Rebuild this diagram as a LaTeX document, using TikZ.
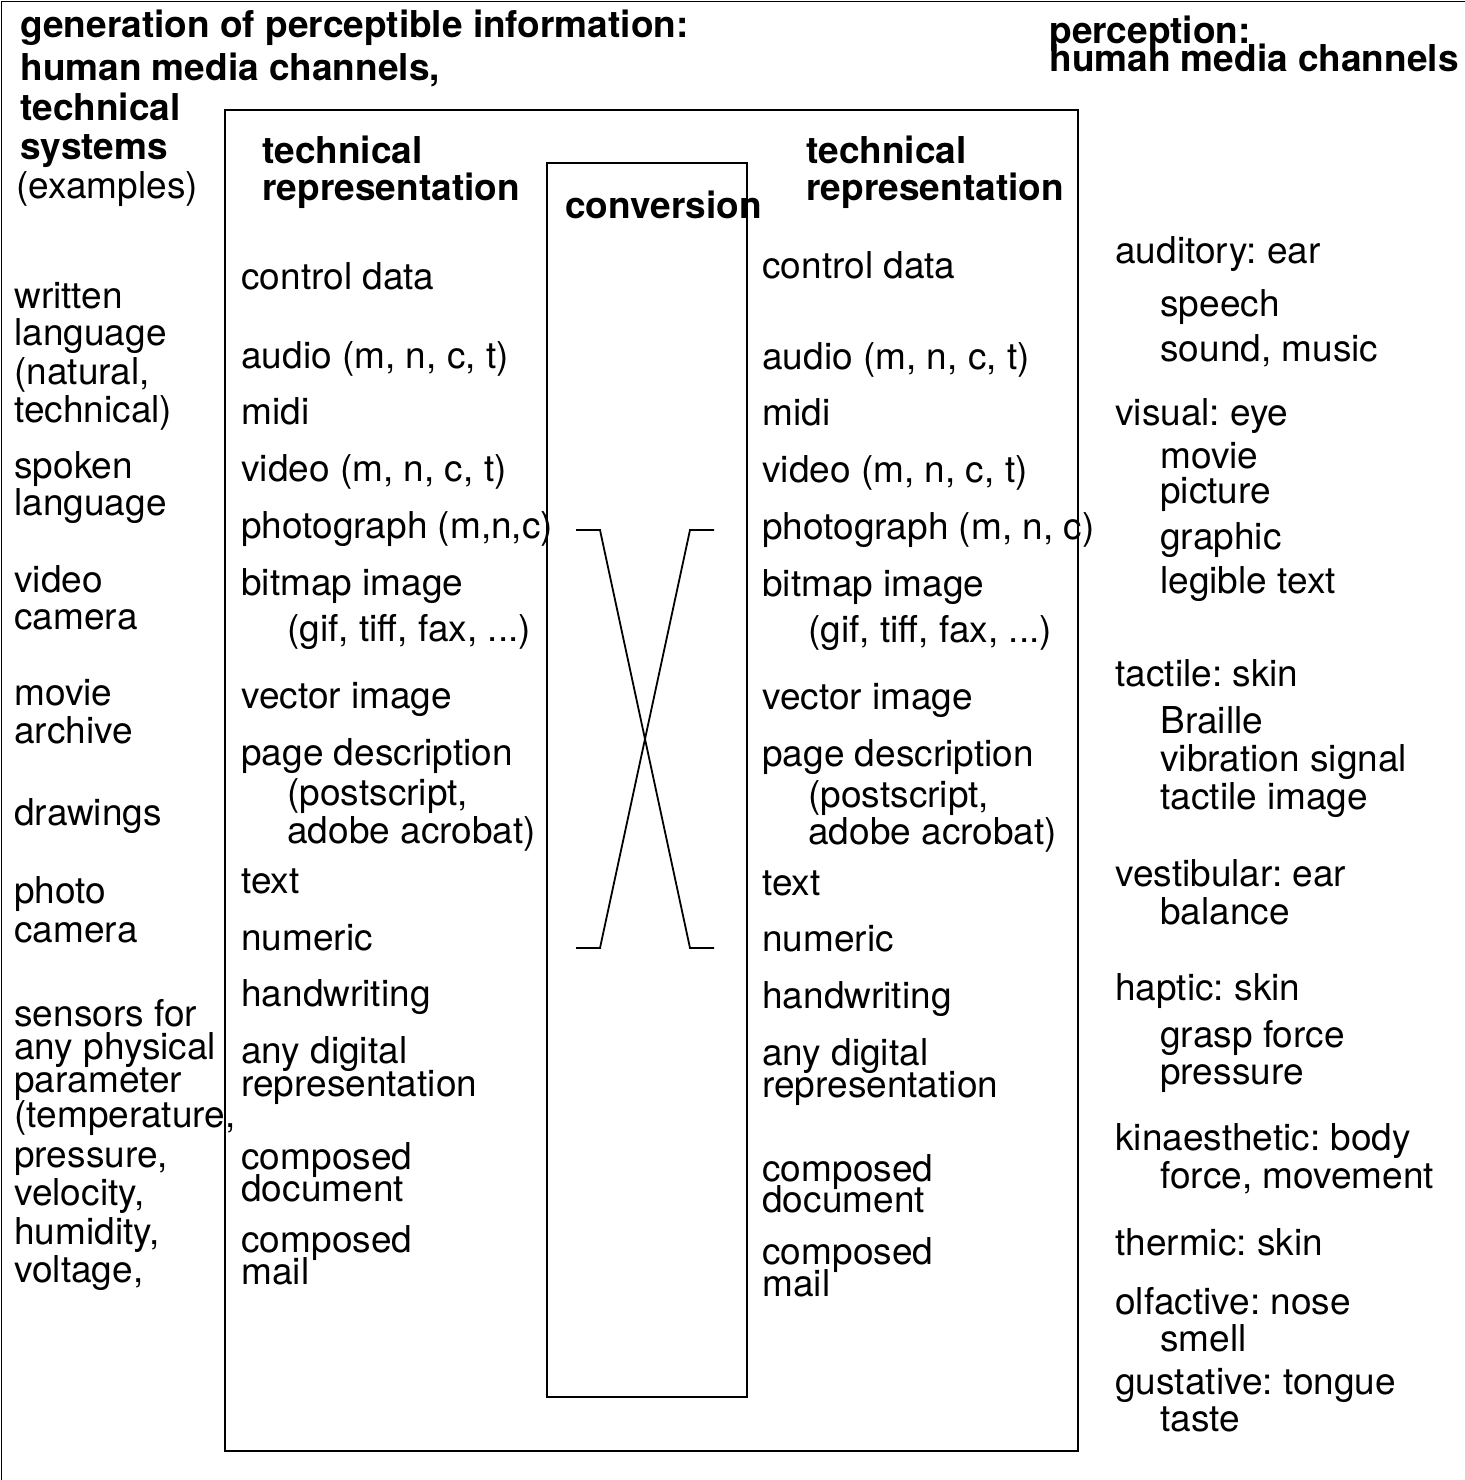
\documentclass[tikz,border=0pt]{standalone}
\usepackage{fontspec}
\setmainfont{TeX Gyre Heros}
\frenchspacing
\begin{document}
\begin{tikzpicture}[x=0.5pt,y=-0.5pt,
  lab/.style={anchor=base west, inner sep=0pt, font=\fontsize{18.5}{22}\selectfont},
  hd/.style={anchor=base west, inner sep=0pt, font=\fontsize{18.5}{22}\selectfont\bfseries},
  boxline/.style={line width=1pt},
  crossline/.style={line width=0.9pt, line join=miter}]
\useasboundingbox (0,0) rectangle (1465,1480);
% frame
\coordinate (fbl) at (1.5,1480);
\coordinate (ftl) at (1.5,1.5);
\coordinate (ftr) at (1465,1.5);
\draw[line width=0.8pt] (fbl) -- (ftl) -- (ftr);
% boxes
\coordinate (oTL) at (225,110); \coordinate (oBR) at (1078,1451);
\coordinate (cTL) at (547,163); \coordinate (cBR) at (747,1397);
\draw[boxline] (oTL) rectangle (oBR);
\draw[boxline] (cTL) rectangle (cBR);
% cross connectors
\coordinate (a1) at (576,530); \coordinate (a2) at (600,530);
\coordinate (a3) at (690,948); \coordinate (a4) at (714,948);
\coordinate (b1) at (714,530); \coordinate (b2) at (690,530);
\coordinate (b3) at (600,948); \coordinate (b4) at (576,948);
\draw[crossline] (a1) -- (a2) -- (a3) -- (a4);
\draw[crossline] (b1) -- (b2) -- (b3) -- (b4);
% headers
\node[hd] (h1) at (20,37) {generation of perceptible information:};
\node[hd] (h2) at (20,80) {human media channels,};
\node[hd] (h3) at (20,120) {technical};
\node[hd] (h4) at (20,159) {systems};
\node[lab] (h5) at (16,198) {(examples)};
\node[hd] (p1) at (1049,43) {perception:};
\node[hd] (p2) at (1049,71) {human media channels};
\node[hd] (t1) at (262,163) {technical};
\node[hd] (t2) at (262,200) {representation};
\node[hd] (t3) at (806,163) {technical};
\node[hd] (t4) at (806,200) {representation};
\node[hd] (cv) at (565,218) {conversion};
% left column
\foreach \y/\t [count=\i] in {308/written, 345/language, 384/{(natural,}, 422/{technical)},
  478/spoken, 515/language, 592/video, 629/camera, 705/movie, 743/archive,
  825/drawings, 903/photo, 942/camera, 1026/sensors for, 1059/any physical,
  1092/parameter, 1127/{(temperature,}, 1167/{pressure,}, 1205/{velocity,},
  1244/{humidity,}, 1282/{voltage,}}
  \node[lab] (L\i) at (14,\y) {\t};
% middle left column
\foreach \y/\t [count=\i] in {289/control data, 368/{audio (m, n, c, t)}, 424/midi,
  481/{video (m, n, c, t)}, 538/{photograph (m,n,c)}, 595/bitmap image,
  708/vector image, 765/page description, 893/text, 950/numeric,
  1006/handwriting, 1063/any digital, 1096/representation, 1169/composed,
  1201/document, 1252/composed, 1284/mail}
  \node[lab] (M\i) at (241,\y) {\t};
\node[lab] (Mg) at (287,641) {(gif, tiff, fax, ...)};
\node[lab] (Mp) at (287,805) {(postscript,};
\node[lab] (Ma) at (287,843) {adobe acrobat)};
% middle right column
\foreach \y/\t [count=\i] in {278/control data, 369/{audio (m, n, c, t)}, 425/midi,
  482/{video (m, n, c, t)}, 539/{photograph (m, n, c)}, 596/bitmap image,
  709/vector image, 766/page description, 895/text, 951/numeric,
  1008/handwriting, 1065/any digital, 1097/representation, 1181/composed,
  1212/document, 1264/composed, 1296/mail}
  \node[lab] (R\i) at (762,\y) {\t};
\node[lab] (Rg) at (808,642) {(gif, tiff, fax, ...)};
\node[lab] (Rp) at (808,807) {(postscript,};
\node[lab] (Ra) at (808,844) {adobe acrobat)};
% right column
\foreach \y/\t [count=\i] in {263/auditory: ear, 425/visual: eye, 686/tactile: skin,
  886/vestibular: ear, 1000/haptic: skin, 1150/kinaesthetic: body,
  1255/thermic: skin, 1314/olfactive: nose, 1394/gustative: tongue}
  \node[lab] (P\i) at (1115,\y) {\t};
\foreach \y/\t [count=\i] in {316/speech, 361/{sound, music}, 468/movie, 503/picture,
  549/graphic, 593/legible text, 733/Braille, 771/vibration signal,
  809/tactile image, 924/balance, 1047/grasp force, 1084/pressure,
  1188/{force, movement}, 1351/smell, 1431/taste}
  \node[lab] (Q\i) at (1160,\y) {\t};
\end{tikzpicture}
\end{document}
